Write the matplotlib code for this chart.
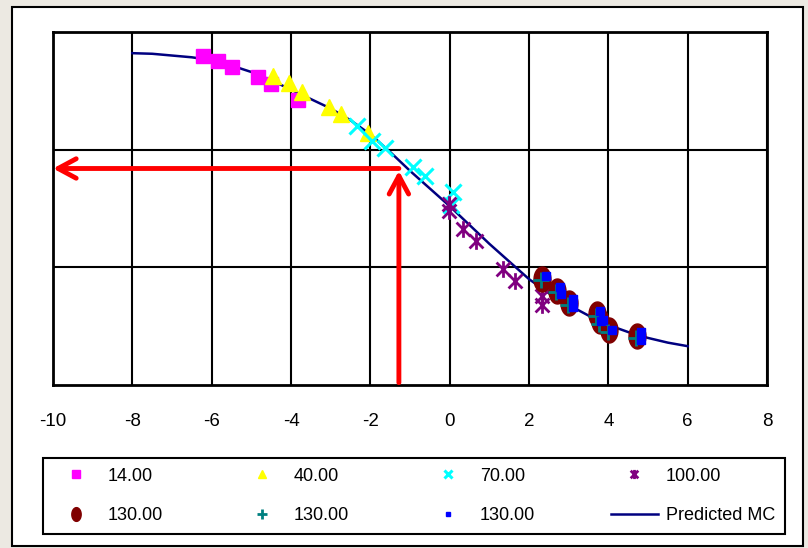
import matplotlib
matplotlib.use('Agg')
import matplotlib.pyplot as plt
import numpy as np
from matplotlib.path import Path
from matplotlib.patches import Rectangle

plt.rcParams['font.family'] = ['Liberation Sans', 'DejaVu Sans']
plt.rcParams['axes.unicode_minus'] = False

# series
sq_x = [-6.22, -5.84, -5.49, -4.83, -4.50, -3.82]
sq_y = [2.80, 2.75, 2.70, 2.62, 2.56, 2.42]

tri_x = [-4.45, -4.05, -3.72, -3.04, -2.74, -2.06]
tri_y = [2.63, 2.57, 2.49, 2.36, 2.30, 2.14]

cx_x = [-2.34, -1.96, -1.63, -0.92, -0.62, 0.08, 0.03]
cx_y = [2.20, 2.07, 2.01, 1.85, 1.78, 1.64, 1.53]

st_x = [-0.02, -0.02, 0.33, 0.66, 1.34, 1.65, 2.33, 2.33]
st_y = [1.54, 1.48, 1.33, 1.22, 0.99, 0.88, 0.76, 0.68]

el_x = [2.33, 2.70, 3.01, 3.71, 3.79, 4.02, 4.72]
el_y = [0.90, 0.80, 0.70, 0.60, 0.54, 0.47, 0.42]

pl_x = [2.30, 2.67, 2.98, 3.68, 3.76, 3.99, 4.69]
pl_y = [0.89, 0.79, 0.68, 0.59, 0.52, 0.45, 0.40]

bl_x = [2.42, 2.78, 3.10, 3.80, 3.86, 4.10, 4.82, 2.80, 3.10, 3.82, 4.82]
bl_y = [0.93, 0.83, 0.73, 0.63, 0.55, 0.47, 0.45, 0.77, 0.66, 0.54, 0.38]

curve_x = [-8, -7.5, -7, -6.5, -6, -5.5, -5, -4.5, -4, -3.5, -3, -2.5, -2, -1.5,
           -1, -0.5, 0, 0.5, 1, 1.5, 2, 2.5, 3, 3.5, 4, 4.5, 5, 5.5, 6]
curve_y = [2.82, 2.815, 2.80, 2.785, 2.76, 2.715, 2.66, 2.59, 2.51, 2.43, 2.35,
           2.25, 2.13, 1.98, 1.82, 1.67, 1.52, 1.36, 1.20, 1.05, 0.90, 0.78,
           0.68, 0.59, 0.51, 0.45, 0.40, 0.36, 0.33]

arrow_x = -1.28
arrow_y = 1.84

xticks = [-10, -8, -6, -4, -2, 0, 2, 4, 6, 8]

# custom markers: tall ellipse, excel-like star
t = np.linspace(0, 2 * np.pi, 40)
ellipse = Path(np.column_stack([0.68 * np.cos(t), np.sin(t)]), closed=True)
star = Path([(-1, -1), (1, 1), (-1, 1), (1, -1), (0, -1.2), (0, 1.2)],
            [Path.MOVETO, Path.LINETO, Path.MOVETO, Path.LINETO, Path.MOVETO, Path.LINETO])

fig = plt.figure(figsize=(8.08, 5.48), dpi=100)
fig.patch.set_facecolor('#ECE9E2')
fig.patches.append(Rectangle((12 / 808, 1 - 546 / 548), 791 / 808, 539 / 548,
                             transform=fig.transFigure, facecolor='white',
                             edgecolor='black', lw=1.5, zorder=-5))

ax = fig.add_axes([53 / 808, 1 - 385 / 548, 714 / 808, 353 / 548])
ax.set_xlim(-10, 8)
ax.set_ylim(0, 3)
ax.set_xticks(xticks)
ax.set_yticks([1, 2])
ax.set_yticklabels([])
ax.tick_params(length=0, labelsize=13.5, pad=20)
ax.grid(True, color='black', lw=1.5)
ax.set_axisbelow(True)
for s in ax.spines.values():
    s.set_linewidth(2)

h_sq, = ax.plot(sq_x, sq_y, 's', color='#FF00FF', ms=10, mec='#FF00FF', label='14.00')
h_tri, = ax.plot(tri_x, tri_y, '^', color='#FFFF00', ms=11, mec='#FFFF00', label='40.00')
h_cx, = ax.plot(cx_x, cx_y, 'x', color='#00FFFF', ms=11, mew=2.2, label='70.00')
h_st, = ax.plot(st_x, st_y, ls='none', marker=star, color='#800080', ms=12, mew=2,
                fillstyle='none', label='100.00')
h_el, = ax.plot(el_x, el_y, ls='none', marker=ellipse, color='#800000', ms=18,
                mec='#800000', label='130.00')
h_pl, = ax.plot(pl_x, pl_y, '+', color='#008080', ms=12, mew=2, label='130.00')
h_bl, = ax.plot(bl_x, bl_y, 's', color='#0000FF', ms=6, label='130.00')
h_cv, = ax.plot(curve_x, curve_y, '-', color='#000080', lw=1.8, label='Predicted MC',
                zorder=1.5)

# red reading arrows
aprops = dict(arrowstyle='->,head_length=1.3,head_width=0.7', color='red', lw=3.5,
              shrinkA=0, shrinkB=0)
ax.annotate('', xy=(-10, arrow_y), xytext=(arrow_x, arrow_y), arrowprops=aprops,
            zorder=5)
ax.annotate('', xy=(arrow_x, arrow_y - 0.02), xytext=(arrow_x, 0.02),
            arrowprops=aprops, zorder=5)

handles = [h_sq, h_el, h_tri, h_pl, h_cx, h_bl, h_st, h_cv]
leg = fig.legend(handles=handles, labels=[h.get_label() for h in handles],
                 ncol=4, loc='center', mode='expand',
                 bbox_to_anchor=(43 / 808, 1 - 535 / 548, 742 / 808, 78 / 548),
                 fancybox=False, edgecolor='black', fontsize=13, markerscale=0.55,
                 handlelength=2.6, handletextpad=0.45, labelspacing=1.25,
                 borderpad=0.55, borderaxespad=0, framealpha=1)
leg.get_frame().set_linewidth(1.5)

fig.savefig('out.png', dpi=100, facecolor=fig.get_facecolor())
